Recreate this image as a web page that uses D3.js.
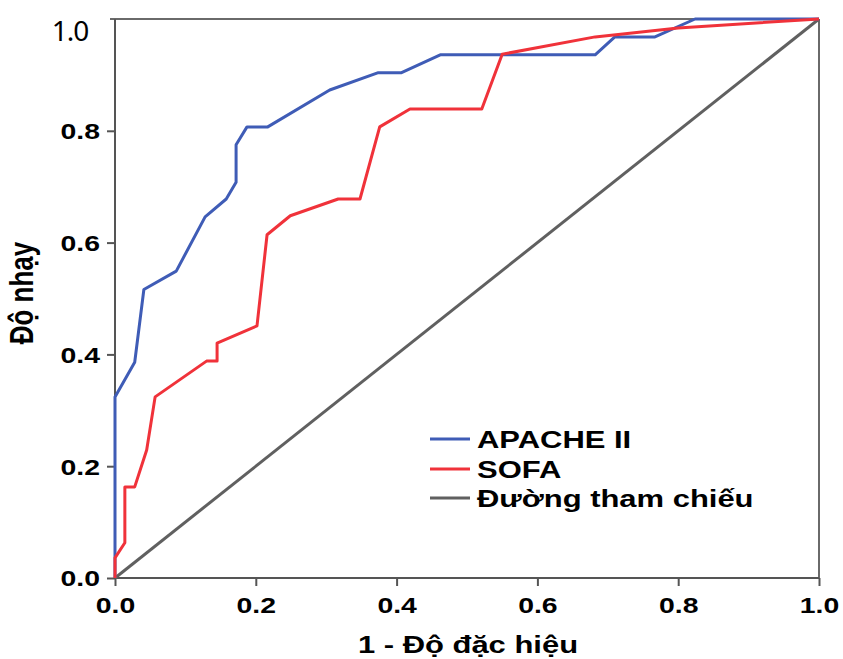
<!DOCTYPE html>
<html>
<head>
<meta charset="utf-8">
<script src="https://cdn.jsdelivr.net/npm/d3@7/dist/d3.min.js"></script>
<style>
  html, body { margin: 0; padding: 0; background: #fff; }
  svg { display: block; }
</style>
</head>
<body>
<svg id="chart" width="843" height="659"></svg>
<script>
// ROC curves: 1 - specificity (x) vs sensitivity (y)
const apacheFpr = [0, 0, 0.028, 0.041, 0.087, 0.128, 0.158, 0.172, 0.172, 0.1875, 0.217, 0.305, 0.374, 0.407, 0.462, 0.682, 0.710, 0.767, 0.824, 1];
const apacheTpr = [0, 0.324, 0.386, 0.516, 0.549, 0.646, 0.678, 0.708, 0.775, 0.807, 0.807, 0.873, 0.904, 0.904, 0.936, 0.936, 0.968, 0.968, 1, 1];

const sofaFpr = [0, 0, 0.014, 0.014, 0.028, 0.045, 0.057, 0.130, 0.145, 0.145, 0.2017, 0.216, 0.249, 0.317, 0.348, 0.376, 0.419, 0.521, 0.550, 0.682, 0.80, 1];
const sofaTpr = [0, 0.036, 0.063, 0.163, 0.163, 0.229, 0.324, 0.388, 0.388, 0.420, 0.451, 0.614, 0.648, 0.678, 0.678, 0.807, 0.839, 0.839, 0.937, 0.968, 0.984, 1];

const refFpr = [0, 1];
const refTpr = [0, 1];

const tickValues = [0, 0.2, 0.4, 0.6, 0.8, 1.0];
const seriesNames = ["APACHE II", "SOFA", "Đường tham chiếu"];
const seriesColors = ["#3f5cb6", "#f0323a", "#606060"];

const xTitle = "1 - Độ đặc hiệu";
const yTitle = "Độ nhạy";

const SX = 1.29; // horizontal text stretch
const boldFont = "'Liberation Sans', Arial, sans-serif";

const svg = d3.select("#chart");
const plotL = 115, plotR = 819, plotT = 19, plotB = 578;

const x = d3.scaleLinear().domain([0, 1]).range([plotL, plotR]);
const y = d3.scaleLinear().domain([0, 1]).range([plotB, plotT]);

// frame: top and right edges
svg.append("line").attr("x1", x(0) - 5).attr("x2", x(1)).attr("y1", y(1)).attr("y2", y(1))
  .attr("stroke", "#6a6a6a").attr("stroke-width", 2);
svg.append("line").attr("x1", x(1)).attr("x2", x(1)).attr("y1", y(1)).attr("y2", y(0))
  .attr("stroke", "#6a6a6a").attr("stroke-width", 2);

// axes
const yAxis = svg.append("g").attr("transform", `translate(${plotL},0)`)
  .call(d3.axisLeft(y).tickValues(tickValues.slice(0, 5)).tickSize(8).tickPadding(3).tickFormat(d3.format(".1f")));
const xAxis = svg.append("g").attr("transform", `translate(0,${plotB})`)
  .call(d3.axisBottom(x).tickValues(tickValues).tickSize(8).tickPadding(3).tickFormat(d3.format(".1f")));

[yAxis, xAxis].forEach(g => {
  g.select(".domain").attr("stroke", "#555").attr("stroke-width", 2);
  g.selectAll(".tick line").attr("stroke", "#555").attr("stroke-width", 2);
  g.selectAll(".tick text")
    .attr("fill", "#000")
    .style("font-family", boldFont)
    .style("font-weight", "bold")
    .style("font-size", "22px");
});
yAxis.selectAll(".tick text")
  .attr("x", -15 / SX)
  .attr("dy", "0.36em")
  .attr("transform", `scale(${SX},1)`);
xAxis.selectAll(".tick text")
  .attr("y", 0)
  .attr("dy", 0)
  .attr("transform", `translate(0,35) scale(${SX},1)`);
xAxis.select(".domain").attr("d", `M${plotL},0H${plotR}`);
yAxis.select(".domain").attr("d", `M0,${plotB}V${plotT}`);

// top y label in a regular face
svg.append("text")
  .attr("x", 70).attr("y", 41)
  .attr("text-anchor", "middle")
  .style("font-family", "'Noto Sans', sans-serif")
  .style("font-size", "28px")
  .style("letter-spacing", "-1px")
  .attr("fill", "#000")
  .text(d3.format(".1f")(tickValues[5]));

// curves
const line = d3.line().x(d => x(d[0])).y(d => y(d[1]));
const series = [
  d3.zip(refFpr, refTpr),
  d3.zip(apacheFpr, apacheTpr),
  d3.zip(sofaFpr, sofaTpr)
];
const seriesColorOrder = [seriesColors[2], seriesColors[0], seriesColors[1]];
series.forEach((pts, i) => {
  svg.append("path")
    .datum(pts)
    .attr("d", line)
    .attr("fill", "none")
    .attr("stroke", seriesColorOrder[i])
    .attr("stroke-width", 3)
    .attr("stroke-linejoin", "round");
});

// legend
const legend = svg.append("g");
const legendY = [439, 469, 498];
seriesNames.forEach((name, i) => {
  legend.append("line")
    .attr("x1", 430).attr("x2", 470)
    .attr("y1", legendY[i]).attr("y2", legendY[i])
    .attr("stroke", seriesColors[i]).attr("stroke-width", 3);
  legend.append("text")
    .attr("transform", `translate(477,${legendY[i] + 8.5}) scale(${SX},1)`)
    .style("font-family", boldFont)
    .style("font-weight", "bold")
    .style("font-size", "24px")
    .attr("fill", "#000")
    .text(name);
});

// axis titles
svg.append("text")
  .attr("transform", `translate(468,653) scale(${SX},1)`)
  .attr("text-anchor", "middle")
  .style("font-family", boldFont)
  .style("font-weight", "bold")
  .style("font-size", "24px")
  .attr("fill", "#000")
  .text(xTitle);

svg.append("text")
  .attr("transform", `translate(33,293) scale(${SX},1) rotate(-90)`)
  .attr("text-anchor", "middle")
  .style("font-family", boldFont)
  .style("font-weight", "bold")
  .style("font-size", "26px")
  .attr("fill", "#000")
  .text(yTitle);
</script>
</body>
</html>
